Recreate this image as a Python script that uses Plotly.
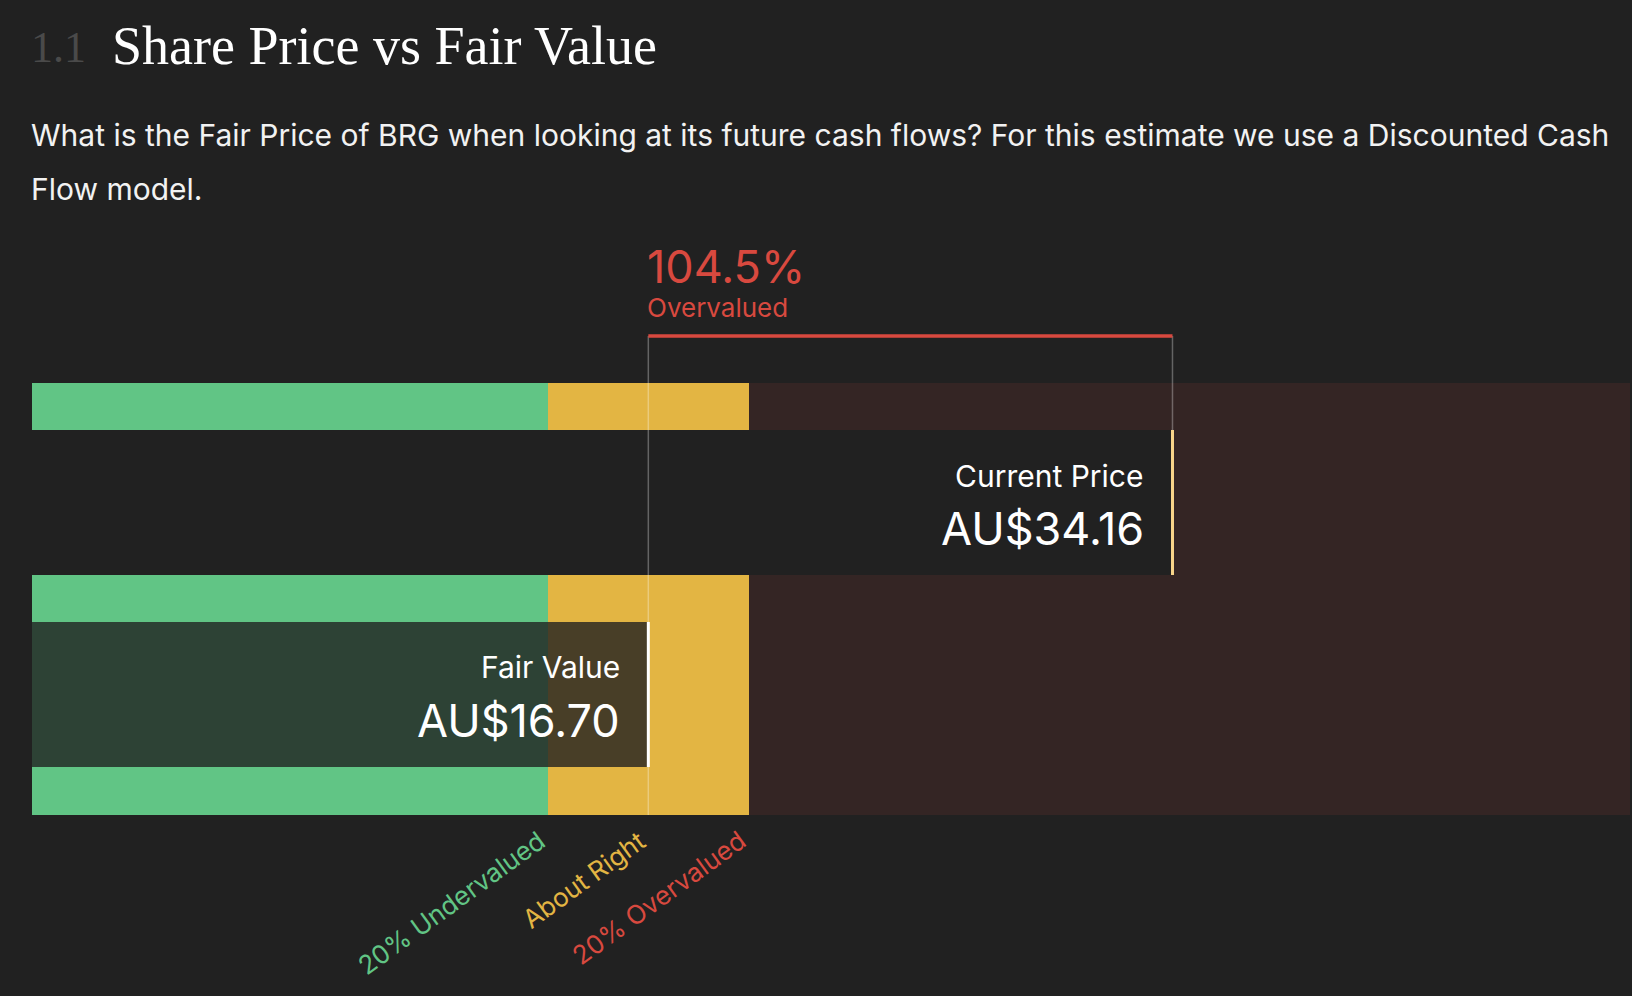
import plotly.graph_objects as go

# values
price_labels = ["Current Price", "Fair Value"]
prices = [34.16, 16.70]
price_texts = ["AU$34.16", "AU$16.70"]
zone_labels = ["20% Undervalued", "About Right", "20% Overvalued"]
zone_edges = [13.36, 20.04]
overvalued_pct = 104.5

# styling
BG = "#212121"
GREEN = "#61c585"
YELLOW = "#e3b543"
DARK_RED = "#342524"
RED = "#d8493f"
X_MIN, X_MAX = -3.83, 49.40
W, H = 1632, 996
SANS = "Inter, Roboto, sans-serif"
SERIF = "Liberation Serif, DejaVu Serif, serif"

cur, fair = prices

fig = go.Figure()

# colour zones of the scale
zone_starts = [X_MIN] + zone_edges
zone_ends = zone_edges + [X_MAX]
for lab, s, e, c in zip(zone_labels + ["rest"], zone_starts, zone_ends, [GREEN, YELLOW, DARK_RED]):
    fig.add_trace(go.Bar(x=[e - s], base=[s], y=[599], width=[432], orientation="h",
                         marker=dict(color=c, line=dict(width=0)), name=lab, hoverinfo="skip"))

# price bars
fig.add_trace(go.Bar(x=[cur - X_MIN], base=[X_MIN], y=[502.5], width=[145], orientation="h",
                     marker=dict(color=BG, line=dict(width=0)), name=price_labels[0]))
fig.add_trace(go.Bar(x=[fair - X_MIN], base=[X_MIN], y=[694.5], width=[145], orientation="h",
                     marker=dict(color="rgba(33,33,33,0.8)", line=dict(width=0)), name=price_labels[1]))

shapes = [
    dict(type="line", x0=fair, x1=fair, y0=336, y1=815, line=dict(color="rgba(255,255,255,0.3)", width=1.5)),
    dict(type="line", x0=cur, x1=cur, y0=336, y1=430, line=dict(color="rgba(255,255,255,0.3)", width=1.5)),
    dict(type="line", x0=fair, x1=cur, y0=336, y1=336, line=dict(color=RED, width=3.5)),
    dict(type="line", x0=cur, x1=cur, y0=430, y1=575, line=dict(color="#f7d489", width=3)),
    dict(type="line", x0=fair, x1=fair, y0=622, y1=767, line=dict(color="white", width=3)),
]
for s in shapes:
    s.update(xref="x", yref="y", layer="above")

ann = []
def txt(text, x, y, size, color, font=SANS, xref="x", xanchor="left", xshift=0, **kw):
    ann.append(dict(text=text, x=x, y=y, xref=xref, yref="y", xanchor=xanchor, yanchor="middle",
                    xshift=xshift, showarrow=False, font=dict(family=font, size=size, color=color), **kw))

def px(p):
    return (p - 32) / (W - 34)

# heading
txt("1.1", px(29), 47, 44, "#4a4a4a", font=SERIF, xref="paper")
txt("Share Price vs Fair Value", px(110), 46, 54, "white", font=SERIF, xref="paper")
txt("What is the Fair Price of BRG when looking at its future cash flows? For this estimate we use a Discounted Cash",
    px(29), 135, 30, "#f2f2f2", xref="paper")
txt("Flow model.", px(29), 189, 30, "#f2f2f2", xref="paper")

# overvaluation bracket label
txt(f"{overvalued_pct}%", fair, 266, 45, RED, xshift=-3)
txt("Overvalued", fair, 307, 26, RED, xshift=-3)

# price labels
txt(price_labels[0], cur, 476, 30, "white", xanchor="right", xshift=-26)
txt(price_texts[0], cur, 528, 45, "white", xanchor="right", xshift=-26)
txt(price_labels[1], fair, 667, 30, "white", xanchor="right", xshift=-26)
txt(price_texts[1], fair, 720, 45, "white", xanchor="right", xshift=-26)

# rotated zone labels
for lab, xv, c in zip(zone_labels, [zone_edges[0], fair, zone_edges[1]], [GREEN, YELLOW, RED]):
    ann.append(dict(text=lab, x=xv, y=822, xref="x", yref="y", xanchor="right", yanchor="top",
                    xshift=6, textangle=-36, showarrow=False, font=dict(family=SANS, size=26, color=c)))

fig.update_layout(
    width=W, height=H,
    margin=dict(l=32, r=2, t=0, b=0),
    paper_bgcolor=BG, plot_bgcolor=BG,
    barmode="overlay", bargap=0, showlegend=False,
    xaxis=dict(range=[X_MIN, X_MAX], visible=False, fixedrange=True),
    yaxis=dict(range=[H, 0], visible=False, fixedrange=True),
    shapes=shapes, annotations=ann,
)

fig.write_html("out.html", config={"displayModeBar": False},
               post_script="document.body.style.margin='0';")
